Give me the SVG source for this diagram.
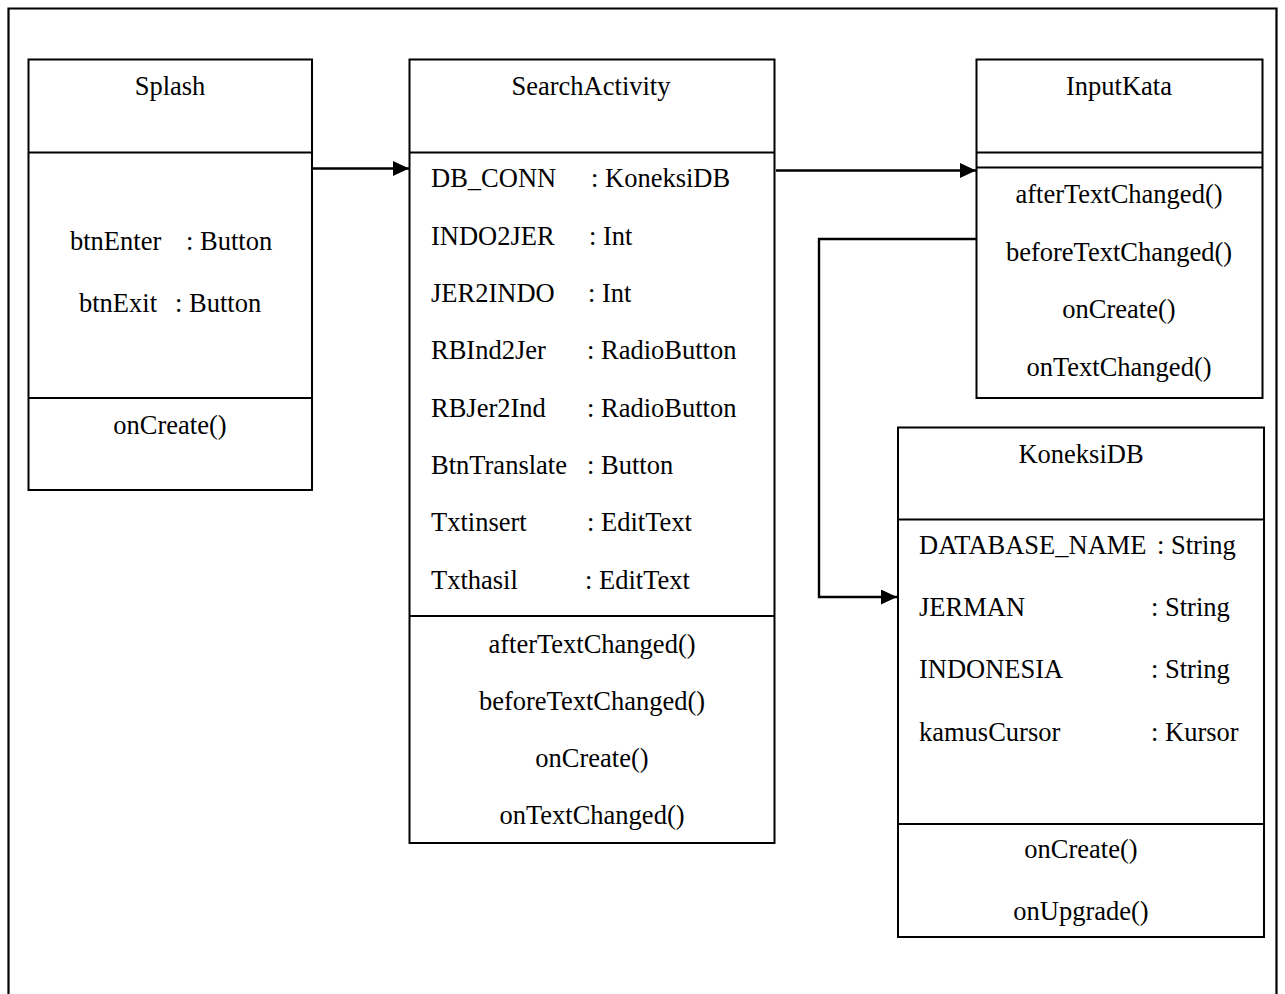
<svg xmlns="http://www.w3.org/2000/svg" width="1285" height="994" viewBox="0 0 1285 994">
  <style>
    .box { fill: #fff; stroke: #000; stroke-width: 2; }
    .sep { stroke: #000; stroke-width: 2; }
    .frame { fill: none; stroke: #000; stroke-width: 2.2; }
    .link { fill: none; stroke: #000; stroke-width: 2.4; }
    text { font-family: "Liberation Serif", "Times New Roman", serif; font-size: 26.5px; fill: #000; }
    .c { text-anchor: middle; }
  </style>
  <defs>
    <marker id="arrow" markerUnits="userSpaceOnUse" markerWidth="16" markerHeight="15" refX="16" refY="7.5" orient="auto">
      <path d="M0,0 L16,7.5 L0,15 Z" fill="#000"/>
    </marker>
  </defs>

  <rect width="1285" height="994" fill="#fff"/>
  <!-- outer frame, open at the bottom -->
  <path class="frame" d="M8.5,1000 V8.5 H1276.5 V1000"/>

  <g id="splash">
    <rect class="box" x="28.5" y="59.5" width="283.5" height="430.5"/>
    <line class="sep" x1="28.5" y1="152.5" x2="312" y2="152.5"/>
    <line class="sep" x1="28.5" y1="398" x2="312" y2="398"/>
    <text class="c" x="170" y="95">Splash</text>
    <text x="70" y="250">btnEnter</text>
    <text x="186" y="250">: Button</text>
    <text x="79" y="312">btnExit</text>
    <text x="175" y="312">: Button</text>
    <text class="c" x="170" y="434">onCreate()</text>
  </g>

  <g id="searchActivity">
    <rect class="box" x="409.5" y="59.5" width="365" height="783.5"/>
    <line class="sep" x1="409.5" y1="152.5" x2="774.5" y2="152.5"/>
    <line class="sep" x1="409.5" y1="616" x2="774.5" y2="616"/>
    <text class="c" x="591" y="95">SearchActivity</text>
    <text x="431" y="187">DB_CONN</text><text x="591" y="187">: KoneksiDB</text>
    <text x="431" y="245">INDO2JER</text><text x="589" y="245">: Int</text>
    <text x="431" y="302">JER2INDO</text><text x="588" y="302">: Int</text>
    <text x="431" y="359">RBInd2Jer</text><text x="587" y="359">: RadioButton</text>
    <text x="431" y="417">RBJer2Ind</text><text x="587" y="417">: RadioButton</text>
    <text x="431" y="474">BtnTranslate</text><text x="587" y="474">: Button</text>
    <text x="431" y="531">Txtinsert</text><text x="587" y="531">: EditText</text>
    <text x="431" y="589">Txthasil</text><text x="585" y="589">: EditText</text>
    <text class="c" x="592" y="653">afterTextChanged()</text>
    <text class="c" x="592" y="710">beforeTextChanged()</text>
    <text class="c" x="592" y="767">onCreate()</text>
    <text class="c" x="592" y="824">onTextChanged()</text>
  </g>

  <g id="inputKata">
    <rect class="box" x="976.5" y="59.5" width="286" height="338.5"/>
    <line class="sep" x1="976.5" y1="152.5" x2="1262.5" y2="152.5"/>
    <line class="sep" x1="976.5" y1="167.5" x2="1262.5" y2="167.5"/>
    <text class="c" x="1119" y="95">InputKata</text>
    <text class="c" x="1119" y="203">afterTextChanged()</text>
    <text class="c" x="1119" y="261">beforeTextChanged()</text>
    <text class="c" x="1119" y="318">onCreate()</text>
    <text class="c" x="1119" y="376">onTextChanged()</text>
  </g>

  <g id="koneksiDB">
    <rect class="box" x="898" y="427.5" width="366" height="509.5"/>
    <line class="sep" x1="898" y1="519.5" x2="1264" y2="519.5"/>
    <line class="sep" x1="898" y1="824" x2="1264" y2="824"/>
    <text class="c" x="1081" y="463">KoneksiDB</text>
    <text x="919" y="554">DATABASE_NAME</text><text x="1157" y="554">: String</text>
    <text x="919" y="616">JERMAN</text><text x="1151" y="616">: String</text>
    <text x="919" y="678">INDONESIA</text><text x="1151" y="678">: String</text>
    <text x="919" y="741">kamusCursor</text><text x="1151" y="741">: Kursor</text>
    <text class="c" x="1081" y="858">onCreate()</text>
    <text class="c" x="1081" y="920">onUpgrade()</text>
  </g>

  <g id="connectors">
    <line class="link" x1="312" y1="168.5" x2="409" y2="168.5" marker-end="url(#arrow)"/>
    <line class="link" x1="776" y1="170.5" x2="976" y2="170.5" marker-end="url(#arrow)"/>
    <polyline class="link" points="976,239 819,239 819,597 897,597" marker-end="url(#arrow)"/>
  </g>
</svg>
